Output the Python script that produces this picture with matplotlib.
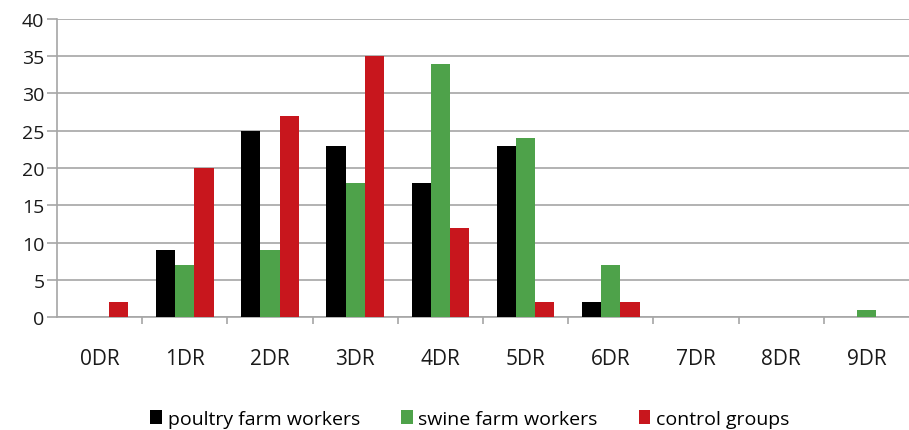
import matplotlib
matplotlib.use("Agg")
import matplotlib.pyplot as plt
import numpy as np

categories = ["0DR", "1DR", "2DR", "3DR", "4DR", "5DR", "6DR", "7DR", "8DR", "9DR"]
poultry = [0, 9, 25, 23, 18, 23, 2, 0, 0, 0]
swine = [0, 7, 9, 18, 34, 24, 7, 0, 0, 1]
control = [2, 20, 27, 35, 12, 2, 2, 0, 0, 0]
series_names = ["poultry farm workers", "swine farm workers", "control groups"]
colors = ["#000000", "#4ea24a", "#c8161d"]

plt.rcParams['font.family'] = ['Open Sans', 'DejaVu Sans']

fig = plt.figure(figsize=(9.09, 4.31), dpi=100)
ax = fig.add_axes([0.0627, 0.262, 0.9373, 0.6918])

x = np.arange(len(categories))
w = 0.225
for k, (vals, name, c) in enumerate(zip([poultry, swine, control], series_names, colors)):
    ax.bar(x + (k - 1) * w, vals, width=w, color=c, label=name, zorder=3)

ax.set_xlim(-0.5, len(categories) - 0.5)
ax.set_ylim(0, 40)
ax.set_yticks(range(0, 41, 5))
ax.yaxis.grid(True, color="#a6a6a6", linewidth=1.2, zorder=0)
ax.set_axisbelow(True)

ax.set_xticks(x)
ax.set_xticklabels(categories)
ax.set_xticks(np.arange(0.5, len(categories) - 0.5, 1), minor=True)
ax.tick_params(axis="x", which="major", length=0, pad=22, labelsize=15, colors="#1a1a1a")
ax.tick_params(axis="x", which="minor", length=5, width=1.2, color="#a6a6a6")
ax.tick_params(axis="y", length=7, width=1.2, color="#a6a6a6", labelsize=14, labelcolor="#1a1a1a", pad=2)

for s in ["top", "right"]:
    ax.spines[s].set_visible(False)
for s in ["left", "bottom"]:
    ax.spines[s].set_color("#a6a6a6")
    ax.spines[s].set_linewidth(1.2)

fig.legend(loc="lower center", bbox_to_anchor=(0.517, -0.035), ncol=3, frameon=False,
           fontsize=14, handlelength=0.6, handleheight=0.75, handletextpad=0.3,
           columnspacing=2.1)

fig.savefig("out.png", dpi=100)
